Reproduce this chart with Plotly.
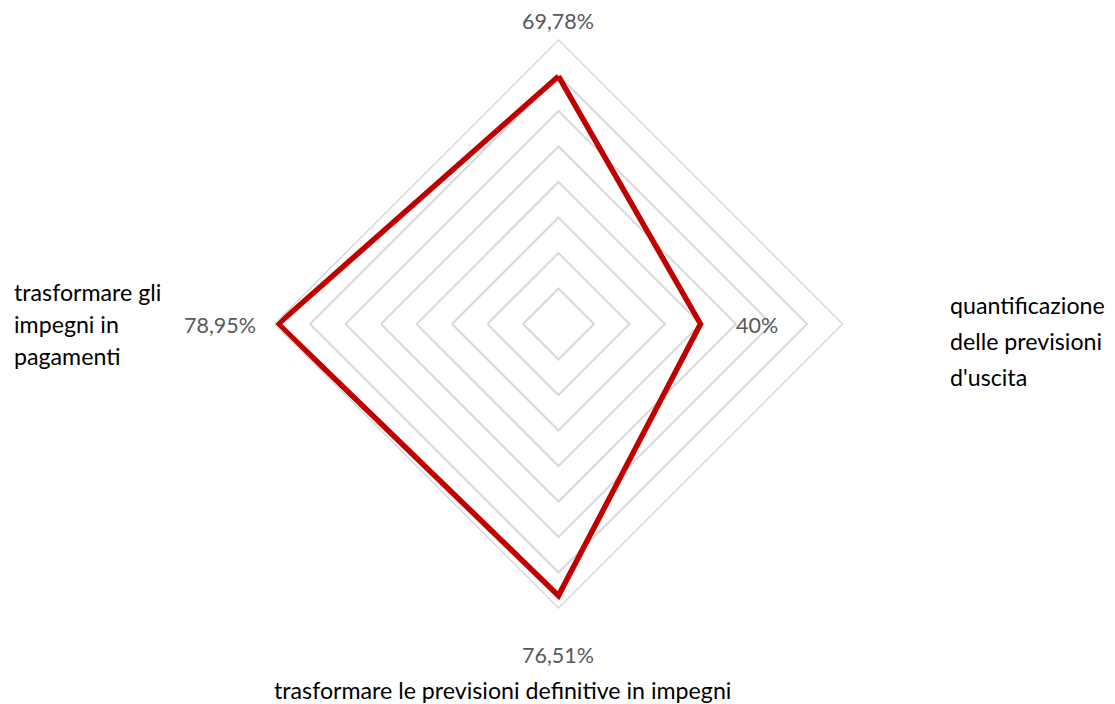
import plotly.graph_objects as go

# Radar axes, clockwise from the top
categories = ["", "quantificazione delle previsioni d'uscita",
              "trasformare le previsioni definitive in impegni",
              "trasformare gli impegni in pagamenti"]
values = [0.6978, 0.40, 0.7651, 0.7895]

# Wrapped axis names (one list entry per line)
category_lines = [
    [],
    ["quantificazione", "delle previsioni", "d'uscita"],
    ["trasformare le previsioni definitive in impegni"],
    ["trasformare gli", "impegni in", "pagamenti"],
]

W, H = 1115, 704
FONT = "Lato"


def pct(v):
    s = f"{v * 100:.2f}".rstrip("0").rstrip(".")
    return s.replace(".", ",") + "%"


fig = go.Figure()
fig.add_trace(go.Scatterpolar(
    r=values + values[:1],
    theta=[f"c{i}" for i in range(len(categories))] + ["c0"],
    mode="lines",
    line=dict(color="#C00000", width=5.5),
    hoverinfo="skip",
    showlegend=False,
))

# centre (558.5, 324) px, outer radius 284 px
cx, cy, R = 558.5, 324, 284
fig.update_layout(
    width=W, height=H,
    margin=dict(l=0, r=0, t=0, b=0),
    paper_bgcolor="white",
    plot_bgcolor="white",
    polar=dict(
        domain=dict(x=[(cx - R) / W, (cx + R) / W],
                    y=[(H - cy - R) / H, (H - cy + R) / H]),
        gridshape="linear",
        bgcolor="white",
        radialaxis=dict(range=[0, 0.8], dtick=0.1, showticklabels=False,
                        ticks="", showline=False,
                        gridcolor="#D9D9D9", gridwidth=1.5),
        angularaxis=dict(direction="clockwise", rotation=90,
                         showgrid=False, showticklabels=False, ticks="",
                         linecolor="#D9D9D9", linewidth=1.5),
    ),
)


def px(x, y):
    return x / W, 1 - y / H


annotations = []
# value labels
value_pos = [(558, 21), (757, 325), (558, 655), (220, 325)]
for v, (x, y) in zip(values, value_pos):
    ax, ay = px(x, y)
    annotations.append(dict(x=ax, y=ay, xref="paper", yref="paper",
                            text=pct(v), showarrow=False,
                            xanchor="center", yanchor="middle",
                            font=dict(family=FONT, size=21.5, color="#595959")))

# axis names
name_pos = [
    None,
    (948, [305, 341, 377], "left"),
    (502, [690], "center"),
    (12, [292, 324, 356], "left"),
]
for lines, pos in zip(category_lines, name_pos):
    if not lines:
        continue
    x, ys, anchor = pos
    for line, y in zip(lines, ys):
        ax, ay = px(x, y)
        annotations.append(dict(x=ax, y=ay, xref="paper", yref="paper",
                                text=line, showarrow=False,
                                xanchor=anchor, yanchor="middle",
                                font=dict(family=FONT, size=23.2, color="#000000")))

fig.update_layout(annotations=annotations)
fig.write_html("out.html")
